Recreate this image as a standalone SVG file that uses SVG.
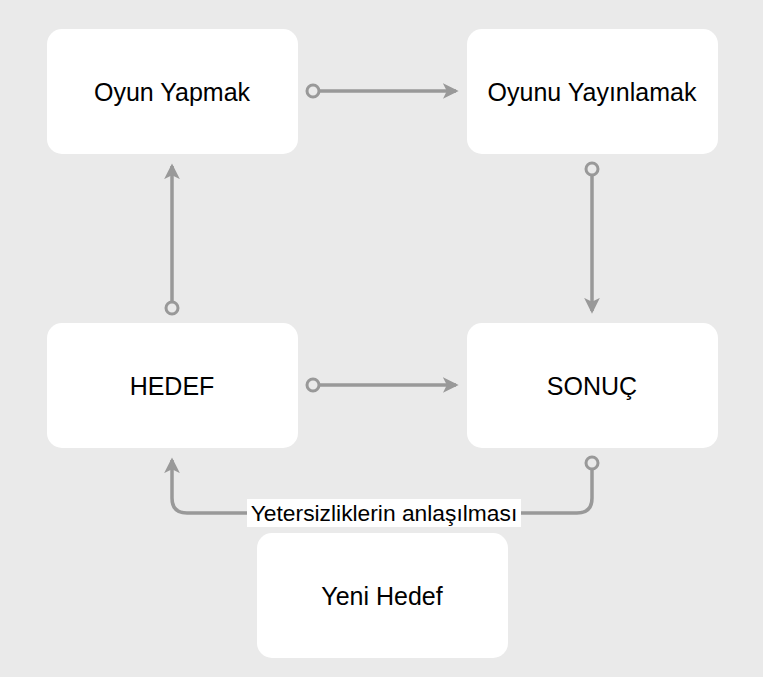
<svg xmlns="http://www.w3.org/2000/svg" width="763" height="677" viewBox="0 0 763 677">
<style>
.n{fill:#fff}
.t{font-family:"Liberation Sans",Arial,sans-serif;font-size:25px;fill:#000;text-anchor:middle;dominant-baseline:central}
.c{stroke:#999;stroke-width:3.5;fill:none;marker-end:url(#a)}
.o{fill:#eaeaea;stroke:#999;stroke-width:3}
</style>
<defs><marker id="a" viewBox="0 0 12 12" refX="10" refY="6" markerWidth="4.5" markerHeight="4.5" orient="auto" markerUnits="strokeWidth"><path d="M0,0 L12,6 L0,12 L3,6 Z" fill="#999"/></marker></defs>
<rect width="763" height="677" fill="#eaeaea"/>
<g id="connectors">
<path class="c" d="M319,91 H456"/>
<path class="c" d="M592,175 V311"/>
<path class="c" d="M172,302 V166"/>
<path class="c" d="M319,385 H456"/>
<path class="c" d="M592,469 V498 Q592,513 577,513 H187 Q172,513 172,498 V460"/>
<circle class="o" cx="313" cy="91" r="6"/>
<circle class="o" cx="592" cy="169" r="6"/>
<circle class="o" cx="172" cy="308" r="6"/>
<circle class="o" cx="313" cy="385" r="6"/>
<circle class="o" cx="592" cy="463" r="6"/>
<rect x="247" y="499" width="274" height="28" fill="#fff"/>
<text class="t" x="384" y="513" style="font-size:22.8px">Yetersizliklerin anlaşılması</text>
</g>
<g id="n1"><rect class="n" x="47" y="29" width="251" height="125" rx="15"/><text class="t" x="172" y="92">Oyun Yapmak</text></g>
<g id="n2"><rect class="n" x="467" y="29" width="251" height="125" rx="15"/><text class="t" x="592" y="92">Oyunu Yayınlamak</text></g>
<g id="n3"><rect class="n" x="47" y="323" width="251" height="125" rx="15"/><text class="t" x="172" y="386">HEDEF</text></g>
<g id="n4"><rect class="n" x="467" y="323" width="251" height="125" rx="15"/><text class="t" x="592" y="386">SONUÇ</text></g>
<g id="n5"><rect class="n" x="257" y="533" width="251" height="125" rx="15"/><text class="t" x="382" y="596">Yeni Hedef</text></g>
</svg>
